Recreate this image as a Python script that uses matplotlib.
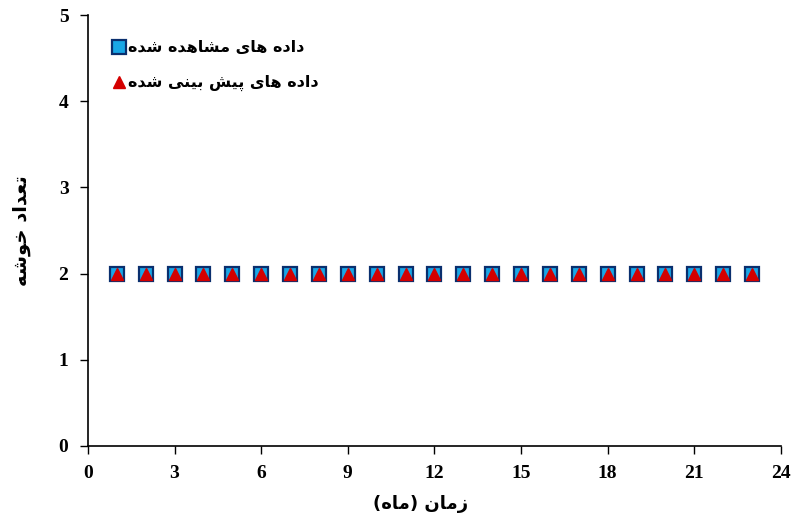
import matplotlib
matplotlib.use("Agg")
import matplotlib.pyplot as plt

# ---------------- data ----------------
months = [1, 2, 3, 4, 5, 6, 7, 8, 9, 10, 11, 12, 13, 14, 15, 16, 17, 18, 19, 20, 21, 22, 23]
observed = [2, 2, 2, 2, 2, 2, 2, 2, 2, 2, 2, 2, 2, 2, 2, 2, 2, 2, 2, 2, 2, 2, 2]
predicted = [2, 2, 2, 2, 2, 2, 2, 2, 2, 2, 2, 2, 2, 2, 2, 2, 2, 2, 2, 2, 2, 2, 2]
x_ticks = [0, 3, 6, 9, 12, 15, 18, 21, 24]
y_ticks = [0, 1, 2, 3, 4, 5]
label_observed = "داده های مشاهده شده"
label_predicted = "داده های پیش بینی شده"
x_label = "زمان (ماه)"
y_label = "تعداد خوشه"

# ------------- minimal Persian shaping (presentation forms + RTL) -------------
# char: (isolated, final, initial, medial); None initial => right-joining only
FORMS = {
    "\u0627": ("\uFE8D", "\uFE8E", None, None),
    "\u0628": ("\uFE8F", "\uFE90", "\uFE91", "\uFE92"),
    "\u067E": ("\uFB56", "\uFB57", "\uFB58", "\uFB59"),
    "\u062A": ("\uFE95", "\uFE96", "\uFE97", "\uFE98"),
    "\u062E": ("\uFEA5", "\uFEA6", "\uFEA7", "\uFEA8"),
    "\u062F": ("\uFEA9", "\uFEAA", None, None),
    "\u0632": ("\uFEAF", "\uFEB0", None, None),
    "\u0634": ("\uFEB5", "\uFEB6", "\uFEB7", "\uFEB8"),
    "\u0639": ("\uFEC9", "\uFECA", "\uFECB", "\uFECC"),
    "\u0645": ("\uFEE1", "\uFEE2", "\uFEE3", "\uFEE4"),
    "\u0646": ("\uFEE5", "\uFEE6", "\uFEE7", "\uFEE8"),
    "\u0647": ("\uFEE9", "\uFEEA", "\uFEEB", "\uFEEC"),
    "\u0648": ("\uFEED", "\uFEEE", None, None),
    "\u06CC": ("\uFBFC", "\uFBFD", "\uFBFE", "\uFBFF"),
}
MIRROR = {"(": ")", ")": "("}


def shape(text):
    chars = list(text)
    out = []
    for i, c in enumerate(chars):
        if c not in FORMS:
            out.append(MIRROR.get(c, c))
            continue
        iso, fin, ini, med = FORMS[c]
        prev = chars[i - 1] if i > 0 else None
        nxt = chars[i + 1] if i + 1 < len(chars) else None
        join_prev = prev in FORMS and FORMS[prev][2] is not None
        join_next = nxt in FORMS and ini is not None
        if join_prev and join_next:
            out.append(med)
        elif join_prev:
            out.append(fin)
        elif join_next:
            out.append(ini)
        else:
            out.append(iso)
    return "".join(reversed(out))


# ---------------- figure ----------------
fig = plt.figure(figsize=(7.92, 5.24), dpi=100)
ax = fig.add_axes([0.111, 0.149, 0.875, 0.822])

ax.plot(months, observed, linestyle="none", marker="s", markersize=10,
        markerfacecolor="#19a7e6", markeredgecolor="#0a2f6e", markeredgewidth=1.6,
        label=shape(label_observed))
ax.plot(months, predicted, linestyle="none", marker="^", markersize=8.5,
        markerfacecolor="#d40000", markeredgecolor="#d40000",
        label=shape(label_predicted))

ax.set_xlim(0, 24)
ax.set_ylim(0, 5)
ax.set_xticks(x_ticks)
ax.set_yticks(y_ticks)

for s in ["top", "right"]:
    ax.spines[s].set_visible(False)
for s in ["left", "bottom"]:
    ax.spines[s].set_linewidth(1.2)
    ax.spines[s].set_color("black")

ax.tick_params(axis="both", direction="out", length=6, width=1.0, pad=8)
for lab in ax.get_xticklabels() + ax.get_yticklabels():
    lab.set_fontfamily("Liberation Serif")
    lab.set_fontweight("bold")
    lab.set_fontsize(14)

ax.set_xlabel(shape(x_label), fontfamily="DejaVu Sans", fontweight="bold",
              fontsize=13, labelpad=10)
ax.xaxis.set_label_coords(0.48, -0.115)
ax.set_ylabel(shape(y_label), fontfamily="DejaVu Sans", fontweight="bold",
              fontsize=14, labelpad=20)

leg = ax.legend(loc="upper left", bbox_to_anchor=(0.017, 0.975), frameon=False,
                prop={"family": "DejaVu Sans", "weight": "bold", "size": 11.5},
                handlelength=0.6, handletextpad=0.25, labelspacing=1.25)

fig.savefig("out.png", dpi=100)
